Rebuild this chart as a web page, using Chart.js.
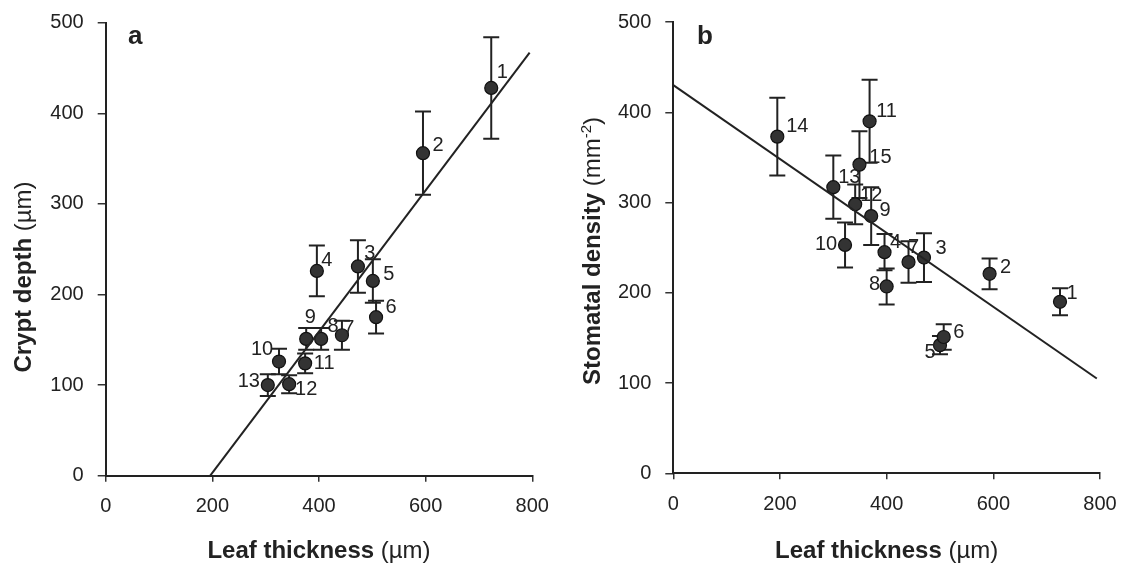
<!DOCTYPE html>
<html>
<head>
<meta charset="utf-8">
<script src="https://cdn.jsdelivr.net/npm/chart.js@4.4.1/dist/chart.umd.min.js"></script>
<style>
  html, body { margin: 0; padding: 0; background: #fff; }
  #wrap { position: relative; width: 1123px; height: 569px; overflow: hidden; background: #fff; }
  canvas { position: absolute; top: 0; }
  #ca { left: 0; }
  #cb { left: 560px; }
</style>
</head>
<body>
<div id="wrap">
  <canvas id="ca" width="560" height="569"></canvas>
  <canvas id="cb" width="563" height="569"></canvas>
</div>
<script>
// ---- data: panel a (crypt depth vs leaf thickness) ----
const aIds        = ['1', '2', '3', '4', '5', '6', '7', '8', '9', '10', '11', '12', '13'];
const aThickness  = [723, 595, 473, 396, 501, 507, 443, 404, 376, 325, 374, 344, 304];
const aCryptDepth = [428, 356, 231, 226, 215, 175, 155, 151, 151, 126, 124, 101, 100];
const aCryptErr   = [56, 46, 29, 28, 24, 18, 16, 12, 12, 14, 11, 10, 12];
const aFitX       = [196, 795];
const aFitY       = [0, 467];

// ---- data: panel b (stomatal density vs leaf thickness) ----
const bIds        = ['1', '2', '3', '4', '5', '6', '7', '8', '9', '10', '11', '12', '13', '14', '15'];
const bThickness  = [725, 593, 470, 396, 500, 507, 441, 400, 371, 322, 368, 341, 300, 195, 349];
const bDensity    = [190, 221, 239, 245, 142, 151, 234, 207, 285, 253, 390, 298, 317, 373, 342];
const bDensityErr = [15, 17, 27, 20, 10, 14, 23, 20, 32, 25, 46, 22, 35, 43, 37];
const bFitX       = [0, 794];
const bFitY       = [430, 105];

// ---- tick values ----
const thicknessTicks = [0, 200, 400, 600, 800];
const cryptTicks     = [0, 100, 200, 300, 400, 500];
const densityTicks   = [0, 100, 200, 300, 400, 500];

// label placement around each marker (pixels, relative to the marker centre)
const labelPlacementA = {
  '1': [11, -15], '2': [15, -8], '3': [12, -13], '4': [10, -10], '5': [16, -6],
  '6': [15, -10], '7': [7, -7], '8': [12, -12], '9': [4, -21], '10': [-17, -12],
  '11': [19, 0], '12': [17, 5], '13': [-19, -4]
};
const labelPlacementB = {
  '1': [12, -8], '2': [16, -6], '3': [17, -9], '4': [11, -10], '5': [-10, 7],
  '6': [15, -5], '7': [5, -15], '8': [-12, -2], '9': [14, -6], '10': [-19, 0],
  '11': [17, -10], '12': [16, -9], '13': [16, -10], '14': [20, -10], '15': [21, -7]
};

const INK = '#222';
const FONT = '"Liberation Sans", Arial, sans-serif';

// vertical error bars with caps, drawn under the markers
const errorBarPlugin = {
  id: 'errorBars',
  beforeDatasetsDraw(chart, args, opts) {
    const { ctx, scales } = chart;
    const xs = opts.x, ys = opts.y, es = opts.err;
    ctx.save();
    ctx.strokeStyle = INK;
    ctx.lineWidth = 2;
    for (let i = 0; i < xs.length; i++) {
      const px = scales.x.getPixelForValue(xs[i]);
      const top = scales.y.getPixelForValue(ys[i] + es[i]);
      const bot = scales.y.getPixelForValue(ys[i] - es[i]);
      ctx.beginPath();
      ctx.moveTo(px, top); ctx.lineTo(px, bot);
      ctx.moveTo(px - 8, top); ctx.lineTo(px + 8, top);
      ctx.moveTo(px - 8, bot); ctx.lineTo(px + 8, bot);
      ctx.stroke();
    }
    ctx.restore();
  }
};

// point numbers, panel letter and mixed-weight axis titles
const annotatePlugin = {
  id: 'annotate',
  afterDraw(chart, args, opts) {
    const { ctx, scales } = chart;
    ctx.save();
    ctx.fillStyle = INK;
    ctx.textAlign = 'center';
    ctx.textBaseline = 'middle';
    ctx.font = '20px ' + FONT;
    opts.ids.forEach((id, i) => {
      const px = scales.x.getPixelForValue(opts.x[i]);
      const py = scales.y.getPixelForValue(opts.y[i]);
      const d = opts.place[id] || [14, -8];
      ctx.fillText(id, px + d[0], py + d[1]);
    });

    // panel letter
    ctx.textAlign = 'left';
    ctx.textBaseline = 'alphabetic';
    ctx.font = 'bold 26px ' + FONT;
    ctx.fillText(opts.letter, opts.letterPos[0], opts.letterPos[1]);

    // draw a run of [text, font, dy] pieces starting at x
    const runWidth = (parts) => parts.reduce((w, p) => { ctx.font = p[1]; return w + ctx.measureText(p[0]).width; }, 0);
    const drawRun = (parts, x, y) => {
      parts.forEach(p => { ctx.font = p[1]; ctx.fillText(p[0], x, y + (p[2] || 0)); x += ctx.measureText(p[0]).width; });
    };

    // x title
    const area = chart.chartArea;
    const xw = runWidth(opts.xTitle);
    drawRun(opts.xTitle, (area.left + area.right) / 2 - xw / 2 + opts.xTitleShift, opts.xTitleBase);

    // y title (rotated)
    const yw = runWidth(opts.yTitle);
    ctx.translate(opts.yTitleBase, opts.yTitleCenter);
    ctx.rotate(-Math.PI / 2);
    drawRun(opts.yTitle, -yw / 2, 0);
    ctx.restore();
  }
};

function buildChart(canvasId, cfg) {
  const tickFont = { family: FONT, size: 20 };
  return new Chart(document.getElementById(canvasId), {
    type: 'scatter',
    data: {
      datasets: [
        {
          type: 'line',
          data: cfg.fitX.map((v, i) => ({ x: v, y: cfg.fitY[i] })),
          borderColor: INK,
          borderWidth: 2,
          pointRadius: 0,
          fill: false,
          clip: false
        },
        {
          data: cfg.x.map((v, i) => ({ x: v, y: cfg.y[i] })),
          pointRadius: 6.5,
          pointHoverRadius: 6.5,
          backgroundColor: '#333',
          borderColor: '#111',
          borderWidth: 1.2,
          clip: false
        }
      ]
    },
    options: {
      responsive: false,
      animation: false,
      events: [],
      layout: { padding: cfg.padding },
      plugins: {
        legend: { display: false },
        tooltip: { enabled: false },
        errorBars: { x: cfg.x, y: cfg.y, err: cfg.err },
        annotate: {
          ids: cfg.ids, x: cfg.x, y: cfg.y, place: cfg.place,
          letter: cfg.letter, letterPos: cfg.letterPos,
          xTitle: cfg.xTitle, xTitleBase: cfg.xTitleBase, xTitleShift: cfg.xTitleShift,
          yTitle: cfg.yTitle, yTitleBase: cfg.yTitleBase, yTitleCenter: cfg.yTitleCenter
        }
      },
      scales: {
        x: {
          type: 'linear',
          min: 0, max: 800,
          afterBuildTicks: (s) => { s.ticks = thicknessTicks.map(v => ({ value: v })); },
          // fixed axis band; the layout padding alone sets the plot edges
          afterFit: (s) => { s.height = cfg.xAxisHeight; s.paddingLeft = 0; s.paddingRight = 0; },
          ticks: { font: tickFont, color: INK, padding: 13, maxRotation: 0 },
          grid: { display: true, drawOnChartArea: false, drawTicks: true, tickLength: 6, color: '#333', lineWidth: 1.5 },
          border: { display: true, color: INK, width: 2 }
        },
        y: {
          type: 'linear',
          min: 0, max: 500,
          afterBuildTicks: (s) => { s.ticks = cfg.yTicks.map(v => ({ value: v })); },
          afterFit: (s) => { s.width = cfg.yAxisWidth; s.paddingTop = 0; s.paddingBottom = 0; },
          ticks: { font: tickFont, color: INK, padding: 14 },
          grid: { display: true, drawOnChartArea: false, drawTicks: true, tickLength: 8, color: '#333', lineWidth: 1.5 },
          border: { display: true, color: INK, width: 2 }
        }
      }
    },
    plugins: [errorBarPlugin, annotatePlugin]
  });
}

const titleBold = 'bold 24px ' + FONT;
const titleReg = '24px ' + FONT;
const supFont = '15px ' + FONT;

buildChart('ca', {
  ids: aIds, x: aThickness, y: aCryptDepth, err: aCryptErr,
  fitX: aFitX, fitY: aFitY, yTicks: cryptTicks,
  place: labelPlacementA,
  padding: { top: 22.7, right: 27.7, left: 0, bottom: 0 },
  yAxisWidth: 105.7, xAxisHeight: 93.3,
  letter: 'a', letterPos: [128, 44],
  xTitle: [['Leaf thickness ', titleBold], ['(µm)', titleReg]],
  xTitleBase: 558, xTitleShift: 0,
  yTitle: [['Crypt depth ', titleBold], ['(µm)', titleReg]],
  yTitleBase: 31, yTitleCenter: 277
});

buildChart('cb', {
  ids: bIds, x: bThickness, y: bDensity, err: bDensityErr,
  fitX: bFitX, fitY: bFitY, yTicks: densityTicks,
  place: labelPlacementB,
  padding: { top: 22, right: 23, left: 0, bottom: 0 },
  yAxisWidth: 113.3, xAxisHeight: 95.7,
  letter: 'b', letterPos: [137, 44],
  xTitle: [['Leaf thickness ', titleBold], ['(µm)', titleReg]],
  xTitleBase: 558, xTitleShift: 0,
  yTitle: [['Stomatal density ', titleBold], ['(mm', titleReg], ['-2', supFont, -9], [')', titleReg]],
  yTitleBase: 40, yTitleCenter: 251
});
</script>
</body>
</html>
